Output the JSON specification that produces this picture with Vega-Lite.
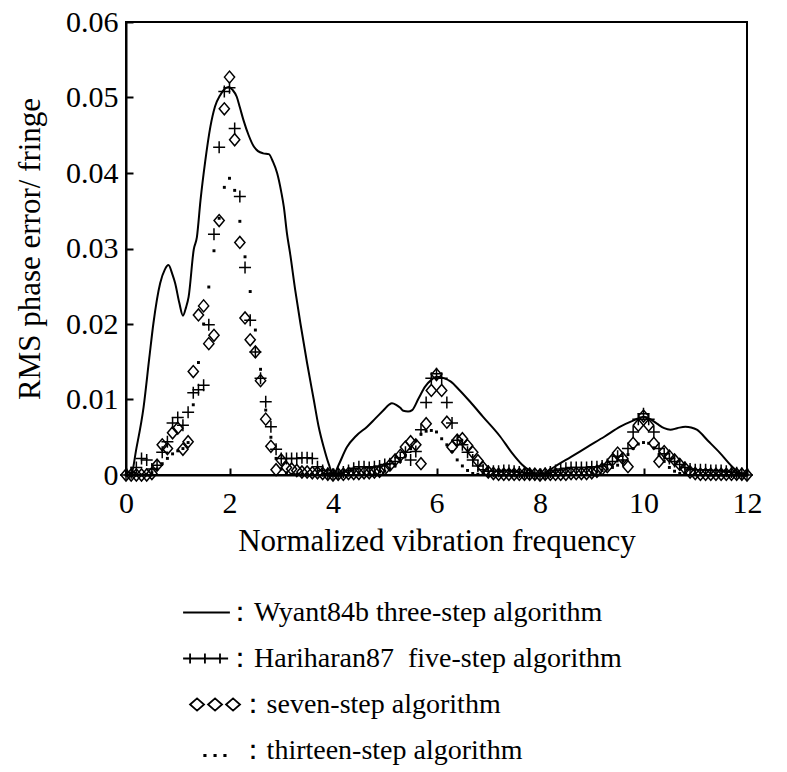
{
  "$schema": "https://vega.github.io/schema/vega-lite/v6.json",
  "width": 621,
  "height": 453,
  "autosize": "none",
  "padding": {"left": 126, "top": 22, "right": 40, "bottom": 297},
  "background": "white",
  "config": {
    "font": "Liberation Serif",
    "view": {"stroke": "black", "strokeWidth": 2},
    "axis": {
      "domainColor": "black", "domainWidth": 2, "tickColor": "black", "tickWidth": 2, "tickSize": -7,
      "grid": false, "labelFont": "Liberation Serif", "labelFontSize": 30, "labelColor": "black",
      "titleFont": "Liberation Serif", "titleFontSize": 31, "titleFontWeight": "normal", "titleColor": "black",
      "labelFlush": false, "labelOverlap": false
    }
  },
  "datasets": {
    "wyant": [
      {"x": 0, "y": 0}, {"x": 0.1, "y": 0.0001}, {"x": 0.2, "y": 0.0035}, {"x": 0.34, "y": 0.009}, {"x": 0.45, "y": 0.0155},
      {"x": 0.53, "y": 0.0201}, {"x": 0.66, "y": 0.0254}, {"x": 0.75, "y": 0.0272}, {"x": 0.82, "y": 0.0278}, {"x": 0.9, "y": 0.0265},
      {"x": 0.95, "y": 0.0254}, {"x": 1.03, "y": 0.0228}, {"x": 1.1, "y": 0.0211}, {"x": 1.16, "y": 0.0222}, {"x": 1.21, "y": 0.0236},
      {"x": 1.31, "y": 0.0299}, {"x": 1.37, "y": 0.0315}, {"x": 1.44, "y": 0.0364}, {"x": 1.53, "y": 0.0415}, {"x": 1.63, "y": 0.0461},
      {"x": 1.72, "y": 0.0488}, {"x": 1.82, "y": 0.0503}, {"x": 1.9, "y": 0.0511}, {"x": 1.98, "y": 0.0514}, {"x": 2.06, "y": 0.051},
      {"x": 2.14, "y": 0.0501}, {"x": 2.2, "y": 0.0487}, {"x": 2.27, "y": 0.047}, {"x": 2.37, "y": 0.045}, {"x": 2.47, "y": 0.0435},
      {"x": 2.55, "y": 0.0429}, {"x": 2.65, "y": 0.0426}, {"x": 2.76, "y": 0.0425}, {"x": 2.84, "y": 0.0415}, {"x": 2.92, "y": 0.04},
      {"x": 3.0, "y": 0.0375}, {"x": 3.05, "y": 0.0355}, {"x": 3.11, "y": 0.032}, {"x": 3.17, "y": 0.0294}, {"x": 3.27, "y": 0.0245},
      {"x": 3.37, "y": 0.0201}, {"x": 3.5, "y": 0.0148}, {"x": 3.63, "y": 0.0099}, {"x": 3.72, "y": 0.0065}, {"x": 3.82, "y": 0.0037},
      {"x": 3.92, "y": 0.0014}, {"x": 4.01, "y": 0}, {"x": 4.1, "y": 0.0012}, {"x": 4.27, "y": 0.0037}, {"x": 4.45, "y": 0.0052},
      {"x": 4.66, "y": 0.0064}, {"x": 4.82, "y": 0.0075}, {"x": 4.98, "y": 0.0086}, {"x": 5.08, "y": 0.0093}, {"x": 5.14, "y": 0.0095},
      {"x": 5.22, "y": 0.0093}, {"x": 5.3, "y": 0.0089}, {"x": 5.36, "y": 0.0085}, {"x": 5.45, "y": 0.0084}, {"x": 5.53, "y": 0.0086},
      {"x": 5.65, "y": 0.0101}, {"x": 5.78, "y": 0.0117}, {"x": 5.9, "y": 0.0126}, {"x": 6.01, "y": 0.013}, {"x": 6.15, "y": 0.0128},
      {"x": 6.27, "y": 0.0124}, {"x": 6.45, "y": 0.0112}, {"x": 6.65, "y": 0.0097}, {"x": 6.9, "y": 0.0077}, {"x": 7.23, "y": 0.0051},
      {"x": 7.45, "y": 0.003}, {"x": 7.65, "y": 0.0014}, {"x": 7.82, "y": 0.0005}, {"x": 7.95, "y": 0.0001}, {"x": 8.05, "y": 0},
      {"x": 8.15, "y": 0.0005}, {"x": 8.33, "y": 0.0013}, {"x": 8.6, "y": 0.0024}, {"x": 8.91, "y": 0.0037}, {"x": 9.25, "y": 0.0051},
      {"x": 9.55, "y": 0.0064}, {"x": 9.8, "y": 0.0072}, {"x": 10.0, "y": 0.0077}, {"x": 10.13, "y": 0.0074}, {"x": 10.26, "y": 0.0068},
      {"x": 10.4, "y": 0.0062}, {"x": 10.52, "y": 0.006}, {"x": 10.65, "y": 0.0062}, {"x": 10.81, "y": 0.0064}, {"x": 10.92, "y": 0.0063},
      {"x": 11.03, "y": 0.006}, {"x": 11.25, "y": 0.0045}, {"x": 11.48, "y": 0.0029}, {"x": 11.7, "y": 0.0012}, {"x": 11.87, "y": 0.0002},
      {"x": 12, "y": 0}
    ],
    "points": [
      {"alg": "Hariharan87", "x": 0.0, "y": 0}, {"alg": "Hariharan87", "x": 0.1, "y": 0.0003}, {"alg": "Hariharan87", "x": 0.2, "y": 0.001}, {"alg": "Hariharan87", "x": 0.3, "y": 0.0022}, {"alg": "Hariharan87", "x": 0.4, "y": 0.002},
      {"alg": "Hariharan87", "x": 0.5, "y": 0.0008}, {"alg": "Hariharan87", "x": 0.6, "y": 0.0013}, {"alg": "Hariharan87", "x": 0.7, "y": 0.003}, {"alg": "Hariharan87", "x": 0.8, "y": 0.0044}, {"alg": "Hariharan87", "x": 0.9, "y": 0.0069},
      {"alg": "Hariharan87", "x": 1.0, "y": 0.0076}, {"alg": "Hariharan87", "x": 1.1, "y": 0.0066}, {"alg": "Hariharan87", "x": 1.2, "y": 0.0083}, {"alg": "Hariharan87", "x": 1.3, "y": 0.0109}, {"alg": "Hariharan87", "x": 1.4, "y": 0.0113},
      {"alg": "Hariharan87", "x": 1.5, "y": 0.0119}, {"alg": "Hariharan87", "x": 1.6, "y": 0.0199}, {"alg": "Hariharan87", "x": 1.7, "y": 0.0319}, {"alg": "Hariharan87", "x": 1.8, "y": 0.0434}, {"alg": "Hariharan87", "x": 1.9, "y": 0.0508},
      {"alg": "Hariharan87", "x": 2.0, "y": 0.0513}, {"alg": "Hariharan87", "x": 2.1, "y": 0.0459}, {"alg": "Hariharan87", "x": 2.2, "y": 0.0369}, {"alg": "Hariharan87", "x": 2.3, "y": 0.0275}, {"alg": "Hariharan87", "x": 2.4, "y": 0.0205},
      {"alg": "Hariharan87", "x": 2.5, "y": 0.0163}, {"alg": "Hariharan87", "x": 2.6, "y": 0.0128}, {"alg": "Hariharan87", "x": 2.7, "y": 0.0097}, {"alg": "Hariharan87", "x": 2.8, "y": 0.0064}, {"alg": "Hariharan87", "x": 2.9, "y": 0.0034},
      {"alg": "Hariharan87", "x": 3.0, "y": 0.0022}, {"alg": "Hariharan87", "x": 3.1, "y": 0.0022}, {"alg": "Hariharan87", "x": 3.2, "y": 0.0022}, {"alg": "Hariharan87", "x": 3.3, "y": 0.0022}, {"alg": "Hariharan87", "x": 3.4, "y": 0.0023},
      {"alg": "Hariharan87", "x": 3.5, "y": 0.0023}, {"alg": "Hariharan87", "x": 3.6, "y": 0.0022}, {"alg": "Hariharan87", "x": 3.7, "y": 0.0011}, {"alg": "Hariharan87", "x": 3.8, "y": 0.0006}, {"alg": "Hariharan87", "x": 3.9, "y": 0.0002},
      {"alg": "Hariharan87", "x": 4.0, "y": 0}, {"alg": "Hariharan87", "x": 4.1, "y": 0.0002}, {"alg": "Hariharan87", "x": 4.2, "y": 0.0004}, {"alg": "Hariharan87", "x": 4.3, "y": 0.0006}, {"alg": "Hariharan87", "x": 4.4, "y": 0.0009},
      {"alg": "Hariharan87", "x": 4.5, "y": 0.0011}, {"alg": "Hariharan87", "x": 4.6, "y": 0.0011}, {"alg": "Hariharan87", "x": 4.7, "y": 0.001}, {"alg": "Hariharan87", "x": 4.8, "y": 0.0011}, {"alg": "Hariharan87", "x": 4.9, "y": 0.0012},
      {"alg": "Hariharan87", "x": 5.0, "y": 0.0014}, {"alg": "Hariharan87", "x": 5.1, "y": 0.0015}, {"alg": "Hariharan87", "x": 5.2, "y": 0.0018}, {"alg": "Hariharan87", "x": 5.3, "y": 0.0023}, {"alg": "Hariharan87", "x": 5.4, "y": 0.003},
      {"alg": "Hariharan87", "x": 5.5, "y": 0.002}, {"alg": "Hariharan87", "x": 5.6, "y": 0.0031}, {"alg": "Hariharan87", "x": 5.7, "y": 0.006}, {"alg": "Hariharan87", "x": 5.8, "y": 0.0096}, {"alg": "Hariharan87", "x": 5.9, "y": 0.0128},
      {"alg": "Hariharan87", "x": 6.0, "y": 0.0134}, {"alg": "Hariharan87", "x": 6.1, "y": 0.0128}, {"alg": "Hariharan87", "x": 6.2, "y": 0.0096}, {"alg": "Hariharan87", "x": 6.3, "y": 0.0069}, {"alg": "Hariharan87", "x": 6.4, "y": 0.0046},
      {"alg": "Hariharan87", "x": 6.5, "y": 0.004}, {"alg": "Hariharan87", "x": 6.6, "y": 0.003}, {"alg": "Hariharan87", "x": 6.7, "y": 0.002}, {"alg": "Hariharan87", "x": 6.8, "y": 0.0012}, {"alg": "Hariharan87", "x": 6.9, "y": 0.0007},
      {"alg": "Hariharan87", "x": 7.0, "y": 0.0005}, {"alg": "Hariharan87", "x": 7.1, "y": 0.0005}, {"alg": "Hariharan87", "x": 7.2, "y": 0.0005}, {"alg": "Hariharan87", "x": 7.3, "y": 0.0006}, {"alg": "Hariharan87", "x": 7.4, "y": 0.0006},
      {"alg": "Hariharan87", "x": 7.5, "y": 0.0005}, {"alg": "Hariharan87", "x": 7.6, "y": 0.0004}, {"alg": "Hariharan87", "x": 7.7, "y": 0.0003}, {"alg": "Hariharan87", "x": 7.8, "y": 0.0002}, {"alg": "Hariharan87", "x": 7.9, "y": 0.0001},
      {"alg": "Hariharan87", "x": 8.0, "y": 0}, {"alg": "Hariharan87", "x": 8.1, "y": 0.0002}, {"alg": "Hariharan87", "x": 8.2, "y": 0.0004}, {"alg": "Hariharan87", "x": 8.3, "y": 0.0006}, {"alg": "Hariharan87", "x": 8.4, "y": 0.0008},
      {"alg": "Hariharan87", "x": 8.5, "y": 0.0009}, {"alg": "Hariharan87", "x": 8.6, "y": 0.001}, {"alg": "Hariharan87", "x": 8.7, "y": 0.001}, {"alg": "Hariharan87", "x": 8.8, "y": 0.001}, {"alg": "Hariharan87", "x": 8.9, "y": 0.001},
      {"alg": "Hariharan87", "x": 9.0, "y": 0.0011}, {"alg": "Hariharan87", "x": 9.1, "y": 0.0011}, {"alg": "Hariharan87", "x": 9.2, "y": 0.0012}, {"alg": "Hariharan87", "x": 9.3, "y": 0.0014}, {"alg": "Hariharan87", "x": 9.4, "y": 0.0018},
      {"alg": "Hariharan87", "x": 9.5, "y": 0.0025}, {"alg": "Hariharan87", "x": 9.6, "y": 0.002}, {"alg": "Hariharan87", "x": 9.7, "y": 0.0035}, {"alg": "Hariharan87", "x": 9.8, "y": 0.0057}, {"alg": "Hariharan87", "x": 9.9, "y": 0.0074},
      {"alg": "Hariharan87", "x": 10.0, "y": 0.0081}, {"alg": "Hariharan87", "x": 10.1, "y": 0.0074}, {"alg": "Hariharan87", "x": 10.2, "y": 0.0057}, {"alg": "Hariharan87", "x": 10.3, "y": 0.0035}, {"alg": "Hariharan87", "x": 10.4, "y": 0.0028},
      {"alg": "Hariharan87", "x": 10.5, "y": 0.0022}, {"alg": "Hariharan87", "x": 10.6, "y": 0.0018}, {"alg": "Hariharan87", "x": 10.7, "y": 0.0014}, {"alg": "Hariharan87", "x": 10.8, "y": 0.001}, {"alg": "Hariharan87", "x": 10.9, "y": 0.0008},
      {"alg": "Hariharan87", "x": 11.0, "y": 0.0007}, {"alg": "Hariharan87", "x": 11.1, "y": 0.0007}, {"alg": "Hariharan87", "x": 11.2, "y": 0.0007}, {"alg": "Hariharan87", "x": 11.3, "y": 0.0006}, {"alg": "Hariharan87", "x": 11.4, "y": 0.0006},
      {"alg": "Hariharan87", "x": 11.5, "y": 0.0006}, {"alg": "Hariharan87", "x": 11.6, "y": 0.0005}, {"alg": "Hariharan87", "x": 11.7, "y": 0.0004}, {"alg": "Hariharan87", "x": 11.8, "y": 0.0003}, {"alg": "Hariharan87", "x": 11.9, "y": 0.0002},
      {"alg": "Hariharan87", "x": 12.0, "y": 0},
      {"alg": "seven-step", "x": 0.0, "y": 0}, {"alg": "seven-step", "x": 0.1, "y": 0}, {"alg": "seven-step", "x": 0.2, "y": 0}, {"alg": "seven-step", "x": 0.3, "y": 0}, {"alg": "seven-step", "x": 0.4, "y": 0},
      {"alg": "seven-step", "x": 0.5, "y": 0.0002}, {"alg": "seven-step", "x": 0.6, "y": 0.0013}, {"alg": "seven-step", "x": 0.7, "y": 0.004}, {"alg": "seven-step", "x": 0.8, "y": 0.0035}, {"alg": "seven-step", "x": 0.9, "y": 0.0056},
      {"alg": "seven-step", "x": 1.0, "y": 0.0062}, {"alg": "seven-step", "x": 1.1, "y": 0.0034}, {"alg": "seven-step", "x": 1.2, "y": 0.0044}, {"alg": "seven-step", "x": 1.3, "y": 0.0137}, {"alg": "seven-step", "x": 1.4, "y": 0.0212},
      {"alg": "seven-step", "x": 1.5, "y": 0.0224}, {"alg": "seven-step", "x": 1.6, "y": 0.0174}, {"alg": "seven-step", "x": 1.7, "y": 0.0185}, {"alg": "seven-step", "x": 1.8, "y": 0.0337}, {"alg": "seven-step", "x": 1.9, "y": 0.0485},
      {"alg": "seven-step", "x": 2.0, "y": 0.0527}, {"alg": "seven-step", "x": 2.1, "y": 0.0444}, {"alg": "seven-step", "x": 2.2, "y": 0.0308}, {"alg": "seven-step", "x": 2.3, "y": 0.0208}, {"alg": "seven-step", "x": 2.4, "y": 0.0179},
      {"alg": "seven-step", "x": 2.5, "y": 0.0163}, {"alg": "seven-step", "x": 2.6, "y": 0.0125}, {"alg": "seven-step", "x": 2.7, "y": 0.0074}, {"alg": "seven-step", "x": 2.8, "y": 0.0038}, {"alg": "seven-step", "x": 2.9, "y": 0.0007},
      {"alg": "seven-step", "x": 3.0, "y": 0.002}, {"alg": "seven-step", "x": 3.1, "y": 0.001}, {"alg": "seven-step", "x": 3.2, "y": 0.0008}, {"alg": "seven-step", "x": 3.3, "y": 0.0006}, {"alg": "seven-step", "x": 3.4, "y": 0.0004},
      {"alg": "seven-step", "x": 3.5, "y": 0.0004}, {"alg": "seven-step", "x": 3.6, "y": 0.0003}, {"alg": "seven-step", "x": 3.7, "y": 0.0003}, {"alg": "seven-step", "x": 3.8, "y": 0.0002}, {"alg": "seven-step", "x": 3.9, "y": 0.0001},
      {"alg": "seven-step", "x": 4.0, "y": 0}, {"alg": "seven-step", "x": 4.1, "y": 0.0001}, {"alg": "seven-step", "x": 4.2, "y": 0.0001}, {"alg": "seven-step", "x": 4.3, "y": 0.0002}, {"alg": "seven-step", "x": 4.4, "y": 0.0002},
      {"alg": "seven-step", "x": 4.5, "y": 0.0002}, {"alg": "seven-step", "x": 4.6, "y": 0.0003}, {"alg": "seven-step", "x": 4.7, "y": 0.0003}, {"alg": "seven-step", "x": 4.8, "y": 0.0004}, {"alg": "seven-step", "x": 4.9, "y": 0.0005},
      {"alg": "seven-step", "x": 5.0, "y": 0.0008}, {"alg": "seven-step", "x": 5.1, "y": 0.0013}, {"alg": "seven-step", "x": 5.2, "y": 0.002}, {"alg": "seven-step", "x": 5.3, "y": 0.0026}, {"alg": "seven-step", "x": 5.4, "y": 0.0037},
      {"alg": "seven-step", "x": 5.5, "y": 0.0044}, {"alg": "seven-step", "x": 5.6, "y": 0.004}, {"alg": "seven-step", "x": 5.7, "y": 0.0015}, {"alg": "seven-step", "x": 5.8, "y": 0.0068}, {"alg": "seven-step", "x": 5.9, "y": 0.0112},
      {"alg": "seven-step", "x": 6.0, "y": 0.0133}, {"alg": "seven-step", "x": 6.1, "y": 0.0112}, {"alg": "seven-step", "x": 6.2, "y": 0.007}, {"alg": "seven-step", "x": 6.3, "y": 0.0037}, {"alg": "seven-step", "x": 6.4, "y": 0.0046},
      {"alg": "seven-step", "x": 6.5, "y": 0.0048}, {"alg": "seven-step", "x": 6.6, "y": 0.0039}, {"alg": "seven-step", "x": 6.7, "y": 0.003}, {"alg": "seven-step", "x": 6.8, "y": 0.0019}, {"alg": "seven-step", "x": 6.9, "y": 0.001},
      {"alg": "seven-step", "x": 7.0, "y": 0.0004}, {"alg": "seven-step", "x": 7.1, "y": 0.0002}, {"alg": "seven-step", "x": 7.2, "y": 0.0001}, {"alg": "seven-step", "x": 7.3, "y": 0.0001}, {"alg": "seven-step", "x": 7.4, "y": 0.0001},
      {"alg": "seven-step", "x": 7.5, "y": 0.0001}, {"alg": "seven-step", "x": 7.6, "y": 0.0001}, {"alg": "seven-step", "x": 7.7, "y": 0.0001}, {"alg": "seven-step", "x": 7.8, "y": 0.0001}, {"alg": "seven-step", "x": 7.9, "y": 0.0001},
      {"alg": "seven-step", "x": 8.0, "y": 0}, {"alg": "seven-step", "x": 8.1, "y": 0.0001}, {"alg": "seven-step", "x": 8.2, "y": 0.0001}, {"alg": "seven-step", "x": 8.3, "y": 0.0001}, {"alg": "seven-step", "x": 8.4, "y": 0.0001},
      {"alg": "seven-step", "x": 8.5, "y": 0.0001}, {"alg": "seven-step", "x": 8.6, "y": 0.0002}, {"alg": "seven-step", "x": 8.7, "y": 0.0002}, {"alg": "seven-step", "x": 8.8, "y": 0.0002}, {"alg": "seven-step", "x": 8.9, "y": 0.0002},
      {"alg": "seven-step", "x": 9.0, "y": 0.0003}, {"alg": "seven-step", "x": 9.1, "y": 0.0005}, {"alg": "seven-step", "x": 9.2, "y": 0.0008}, {"alg": "seven-step", "x": 9.3, "y": 0.0011}, {"alg": "seven-step", "x": 9.4, "y": 0.002},
      {"alg": "seven-step", "x": 9.5, "y": 0.0029}, {"alg": "seven-step", "x": 9.6, "y": 0.0022}, {"alg": "seven-step", "x": 9.7, "y": 0.0011}, {"alg": "seven-step", "x": 9.8, "y": 0.0042}, {"alg": "seven-step", "x": 9.9, "y": 0.0066},
      {"alg": "seven-step", "x": 10.0, "y": 0.0078}, {"alg": "seven-step", "x": 10.1, "y": 0.0066}, {"alg": "seven-step", "x": 10.2, "y": 0.0042}, {"alg": "seven-step", "x": 10.3, "y": 0.0018}, {"alg": "seven-step", "x": 10.4, "y": 0.0031},
      {"alg": "seven-step", "x": 10.5, "y": 0.0025}, {"alg": "seven-step", "x": 10.6, "y": 0.002}, {"alg": "seven-step", "x": 10.7, "y": 0.0014}, {"alg": "seven-step", "x": 10.8, "y": 0.0009}, {"alg": "seven-step", "x": 10.9, "y": 0.0004},
      {"alg": "seven-step", "x": 11.0, "y": 0.0002}, {"alg": "seven-step", "x": 11.1, "y": 0.0001}, {"alg": "seven-step", "x": 11.2, "y": 0.0001}, {"alg": "seven-step", "x": 11.3, "y": 0.0001}, {"alg": "seven-step", "x": 11.4, "y": 0.0001},
      {"alg": "seven-step", "x": 11.5, "y": 0.0001}, {"alg": "seven-step", "x": 11.6, "y": 0.0001}, {"alg": "seven-step", "x": 11.7, "y": 0.0001}, {"alg": "seven-step", "x": 11.8, "y": 0.0001}, {"alg": "seven-step", "x": 11.9, "y": 0.0001},
      {"alg": "seven-step", "x": 12.0, "y": 0},
      {"alg": "thirteen-step", "x": 0.0, "y": 0}, {"alg": "thirteen-step", "x": 0.1, "y": 0}, {"alg": "thirteen-step", "x": 0.2, "y": 0}, {"alg": "thirteen-step", "x": 0.3, "y": 0}, {"alg": "thirteen-step", "x": 0.4, "y": 0},
      {"alg": "thirteen-step", "x": 0.5, "y": 0.0003}, {"alg": "thirteen-step", "x": 0.6, "y": 0.0008}, {"alg": "thirteen-step", "x": 0.7, "y": 0.0015}, {"alg": "thirteen-step", "x": 0.8, "y": 0.0022}, {"alg": "thirteen-step", "x": 0.9, "y": 0.0028},
      {"alg": "thirteen-step", "x": 1.0, "y": 0.0032}, {"alg": "thirteen-step", "x": 1.1, "y": 0.0035}, {"alg": "thirteen-step", "x": 1.2, "y": 0.0043}, {"alg": "thirteen-step", "x": 1.3, "y": 0.0093}, {"alg": "thirteen-step", "x": 1.4, "y": 0.0149},
      {"alg": "thirteen-step", "x": 1.5, "y": 0.02}, {"alg": "thirteen-step", "x": 1.6, "y": 0.0249}, {"alg": "thirteen-step", "x": 1.7, "y": 0.0297}, {"alg": "thirteen-step", "x": 1.8, "y": 0.034}, {"alg": "thirteen-step", "x": 1.9, "y": 0.0381},
      {"alg": "thirteen-step", "x": 2.0, "y": 0.0393}, {"alg": "thirteen-step", "x": 2.1, "y": 0.0377}, {"alg": "thirteen-step", "x": 2.2, "y": 0.0336}, {"alg": "thirteen-step", "x": 2.3, "y": 0.0289}, {"alg": "thirteen-step", "x": 2.4, "y": 0.0243},
      {"alg": "thirteen-step", "x": 2.5, "y": 0.0192}, {"alg": "thirteen-step", "x": 2.6, "y": 0.014}, {"alg": "thirteen-step", "x": 2.7, "y": 0.0086}, {"alg": "thirteen-step", "x": 2.8, "y": 0.005}, {"alg": "thirteen-step", "x": 2.9, "y": 0.0022},
      {"alg": "thirteen-step", "x": 3.0, "y": 0.0008}, {"alg": "thirteen-step", "x": 3.1, "y": 0.0003}, {"alg": "thirteen-step", "x": 3.2, "y": 0.0001}, {"alg": "thirteen-step", "x": 3.3, "y": 0.0001}, {"alg": "thirteen-step", "x": 3.4, "y": 0.0001},
      {"alg": "thirteen-step", "x": 3.5, "y": 0.0001}, {"alg": "thirteen-step", "x": 3.6, "y": 0.0001}, {"alg": "thirteen-step", "x": 3.7, "y": 0.0001}, {"alg": "thirteen-step", "x": 3.8, "y": 0.0001}, {"alg": "thirteen-step", "x": 3.9, "y": 0.0001},
      {"alg": "thirteen-step", "x": 4.0, "y": 0}, {"alg": "thirteen-step", "x": 4.1, "y": 0.0001}, {"alg": "thirteen-step", "x": 4.2, "y": 0.0001}, {"alg": "thirteen-step", "x": 4.3, "y": 0.0001}, {"alg": "thirteen-step", "x": 4.4, "y": 0.0002},
      {"alg": "thirteen-step", "x": 4.5, "y": 0.0002}, {"alg": "thirteen-step", "x": 4.6, "y": 0.0002}, {"alg": "thirteen-step", "x": 4.7, "y": 0.0003}, {"alg": "thirteen-step", "x": 4.8, "y": 0.0003}, {"alg": "thirteen-step", "x": 4.9, "y": 0.0004},
      {"alg": "thirteen-step", "x": 5.0, "y": 0.0005}, {"alg": "thirteen-step", "x": 5.1, "y": 0.0008}, {"alg": "thirteen-step", "x": 5.2, "y": 0.0012}, {"alg": "thirteen-step", "x": 5.3, "y": 0.0018}, {"alg": "thirteen-step", "x": 5.4, "y": 0.0026},
      {"alg": "thirteen-step", "x": 5.5, "y": 0.0035}, {"alg": "thirteen-step", "x": 5.6, "y": 0.0045}, {"alg": "thirteen-step", "x": 5.7, "y": 0.0054}, {"alg": "thirteen-step", "x": 5.8, "y": 0.0058}, {"alg": "thirteen-step", "x": 5.9, "y": 0.0059},
      {"alg": "thirteen-step", "x": 6.0, "y": 0.0057}, {"alg": "thirteen-step", "x": 6.1, "y": 0.0048}, {"alg": "thirteen-step", "x": 6.2, "y": 0.004}, {"alg": "thirteen-step", "x": 6.3, "y": 0.0031}, {"alg": "thirteen-step", "x": 6.4, "y": 0.002},
      {"alg": "thirteen-step", "x": 6.5, "y": 0.0012}, {"alg": "thirteen-step", "x": 6.6, "y": 0.0006}, {"alg": "thirteen-step", "x": 6.7, "y": 0.0002}, {"alg": "thirteen-step", "x": 6.8, "y": 0.0001}, {"alg": "thirteen-step", "x": 6.9, "y": 0.0001},
      {"alg": "thirteen-step", "x": 7.0, "y": 0.0001}, {"alg": "thirteen-step", "x": 7.2, "y": 0.0001}, {"alg": "thirteen-step", "x": 7.4, "y": 0.0001}, {"alg": "thirteen-step", "x": 7.6, "y": 0.0001}, {"alg": "thirteen-step", "x": 7.8, "y": 0.0001},
      {"alg": "thirteen-step", "x": 8.0, "y": 0}, {"alg": "thirteen-step", "x": 8.2, "y": 0.0001}, {"alg": "thirteen-step", "x": 8.4, "y": 0.0001}, {"alg": "thirteen-step", "x": 8.6, "y": 0.0002}, {"alg": "thirteen-step", "x": 8.8, "y": 0.0002},
      {"alg": "thirteen-step", "x": 9.0, "y": 0.0003}, {"alg": "thirteen-step", "x": 9.1, "y": 0.0004}, {"alg": "thirteen-step", "x": 9.2, "y": 0.0006}, {"alg": "thirteen-step", "x": 9.3, "y": 0.0008}, {"alg": "thirteen-step", "x": 9.4, "y": 0.001},
      {"alg": "thirteen-step", "x": 9.5, "y": 0.0013}, {"alg": "thirteen-step", "x": 9.6, "y": 0.0019}, {"alg": "thirteen-step", "x": 9.7, "y": 0.0027}, {"alg": "thirteen-step", "x": 9.8, "y": 0.0035}, {"alg": "thirteen-step", "x": 9.9, "y": 0.0041},
      {"alg": "thirteen-step", "x": 10.0, "y": 0.0043}, {"alg": "thirteen-step", "x": 10.1, "y": 0.0042}, {"alg": "thirteen-step", "x": 10.2, "y": 0.0036}, {"alg": "thirteen-step", "x": 10.3, "y": 0.0027}, {"alg": "thirteen-step", "x": 10.4, "y": 0.0018},
      {"alg": "thirteen-step", "x": 10.5, "y": 0.001}, {"alg": "thirteen-step", "x": 10.6, "y": 0.0005}, {"alg": "thirteen-step", "x": 10.7, "y": 0.0002}, {"alg": "thirteen-step", "x": 10.8, "y": 0.0001}, {"alg": "thirteen-step", "x": 11.0, "y": 0.0001},
      {"alg": "thirteen-step", "x": 11.2, "y": 0.0001}, {"alg": "thirteen-step", "x": 11.4, "y": 0.0001}, {"alg": "thirteen-step", "x": 11.6, "y": 0.0001}, {"alg": "thirteen-step", "x": 11.8, "y": 0.0001}, {"alg": "thirteen-step", "x": 12.0, "y": 0}
    ]
  },
  "encoding": {
    "x": {
      "field": "x", "type": "quantitative",
      "scale": {"domain": [0, 12], "nice": false, "zero": false},
      "axis": {"values": [0, 2, 4, 6, 8, 10, 12], "title": "Normalized vibration frequency", "labelPadding": 20, "titlePadding": 8}
    },
    "y": {
      "field": "y", "type": "quantitative",
      "scale": {"domain": [0, 0.06], "nice": false},
      "axis": {"values": [0, 0.01, 0.02, 0.03, 0.04, 0.05, 0.06], "labelExpr": "datum.value == 0 ? '0' : format(datum.value, '.2f')", "title": "RMS phase error/ fringe", "labelPadding": 15, "titlePadding": 19}
    }
  },
  "layer": [
    {
      "data": {"name": "wyant"},
      "mark": {"type": "line", "color": "black", "strokeWidth": 2, "interpolate": "monotone"}
    },
    {
      "data": {"name": "points"},
      "mark": {"type": "point", "filled": false, "color": "black", "strokeWidth": 1.5, "size": 144, "opacity": 1},
      "encoding": {
        "shape": {
          "field": "alg", "type": "nominal",
          "scale": {
            "domain": ["Hariharan87", "seven-step", "thirteen-step"],
            "range": ["M-1,0H1M0,-1V1", "M-0.85,0L0,-1L0.85,0L0,1Z", "M-0.12,-0.12H0.12V0.12H-0.12Z"]
          },
          "legend": null
        }
      }
    },
    {
      "data": {"name": "points"},
      "transform": [{"filter": "datum.x == 0"}],
      "mark": {"type": "point", "filled": false, "color": "black", "strokeWidth": 1.8, "size": 2025, "opacity": 0},
      "encoding": {
        "shape": {
          "field": "alg", "type": "nominal",
          "scale": {
            "domain": ["Wyant84b", "Hariharan87", "seven-step", "thirteen-step"],
            "range": [
              "M-1.04,0H1.04",
              "M-1.04,0H0.96M-0.73,-0.22V0.22M-0.07,-0.22V0.22M0.6,-0.22V0.22",
              "M-0.73,0L-0.42,-0.27L-0.11,0L-0.42,0.27ZM0.07,0L0.38,-0.27L0.69,0L0.38,0.27ZM0.87,0L1.18,-0.27L1.49,0L1.18,0.27Z",
              "M-0.1,0.19H-0.04V0.25H-0.1ZM0.35,0.19H0.41V0.25H0.35ZM0.79,0.19H0.85V0.25H0.79Z"
            ]
          },
          "legend": {
            "title": null, "orient": "none", "legendX": 57, "legendY": 567, "direction": "vertical",
            "padding": 0, "symbolSize": 2025, "symbolStrokeWidth": 1.8, "symbolStrokeColor": "black", "symbolOpacity": 1,
            "labelFont": "Liberation Serif", "labelFontSize": 28, "labelColor": "black", "labelOffset": -4, "labelLimit": 0, "rowPadding": 8,
            "labelExpr": "datum.label == 'Wyant84b' ? '：Wyant84b three-step algorithm' : datum.label == 'Hariharan87' ? '：Hariharan87\u00a0 five-step algorithm' : datum.label == 'seven-step' ? '\u200b\u00a0\u2009：seven-step algorithm' : '\u200b\u00a0\u2009：thirteen-step algorithm'"
          }
        }
      }
    }
  ],
  "resolve": {"scale": {"shape": "independent"}, "legend": {"shape": "independent"}}
}
